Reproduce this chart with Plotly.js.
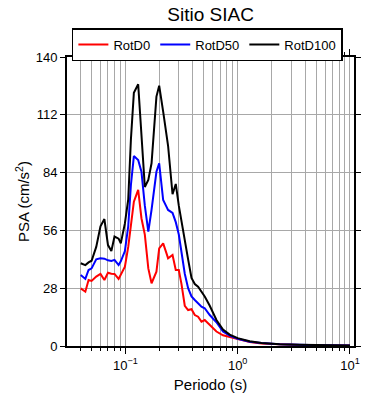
<!DOCTYPE html>
<html><head><meta charset="utf-8">
<script src="https://cdn.plot.ly/plotly-3.0.1.min.js"></script>
<style>html,body{margin:0;padding:0;background:#fff}#chart{width:390px;height:400px}</style>
</head><body><div id="chart"></div>
<script>
const periods = [0.040,0.044,0.047,0.050,0.055,0.060,0.065,0.070,0.075,0.080,0.087,0.091,0.099,0.106,0.112,0.119,0.130,0.139,0.149,0.160,0.171,0.189,0.200,0.217,0.232,0.240,0.263,0.281,0.299,0.316,0.338,0.362,0.388,0.415,0.444,0.476,0.509,0.564,0.647,0.740,0.849,1.0,1.28,1.63,2.36,3.56,5.36,10.0];
const rotD100 = [40.1,39.2,40.5,41.3,48.0,58.0,61.5,48.9,46.0,53.0,52.0,49.7,59.4,71.0,100.0,122.7,126.8,103.0,77.0,80.5,88.5,120.8,126.1,113.5,103.0,97.0,73.5,78.5,68.0,60.0,50.0,42.0,33.0,30.0,28.7,26.5,24.0,19.5,12.6,8.0,5.5,3.8,2.3,1.5,0.9,0.6,0.4,0.25];
const rotD50 = [34.4,32.5,36.8,37.6,42.0,42.5,42.3,41.5,41.2,41.7,39.2,41.0,46.0,58.0,78.0,92.0,90.1,84.4,68.0,55.4,66.0,84.4,88.5,70.7,67.5,65.9,64.5,60.0,54.0,46.0,35.0,28.0,24.0,22.3,20.5,19.0,18.3,15.0,11.5,7.0,5.0,3.5,2.1,1.4,0.8,0.5,0.35,0.22];
const rotD0 = [27.9,26.3,32.0,31.5,33.6,34.9,32.0,35.5,35.0,34.9,32.5,34.5,38.4,48.0,60.0,69.9,75.6,61.9,54.0,37.6,30.4,36.0,47.3,49.7,45.0,42.5,44.1,36.8,36.8,30.0,19.5,17.4,17.8,15.0,14.2,11.8,12.6,10.0,7.0,5.2,4.3,3.2,1.9,1.2,0.7,0.45,0.3,0.2];
const seriesNames = ['RotD0','RotD50','RotD100'];
const seriesColors = ['#ff0000','#0000ff','#000000'];
const xTickVals = [0.1,1,10];
const xTickText = ['10<sup>−1</sup>','10<sup>0</sup>','10<sup>1</sup>'];
const yTickVals = [0,28,56,84,112,140];

const data = [rotD0, rotD50, rotD100].map((ys,i)=>({
  x: periods, y: ys, type:'scatter', mode:'lines', name: seriesNames[i],
  line:{color: seriesColors[i], width:2}
}));

const gridc = '#a8a8a8';
const layout = {
  width:390, height:400,
  margin:{l:67, r:36, t:57, b:54},
  paper_bgcolor:'#fff', plot_bgcolor:'#fff',
  font:{family:'Liberation Sans, Arial, sans-serif', size:13, color:'#000'},
  title:{text:'Sitio SIAC', font:{size:19, color:'#000'}, x:0.54, xanchor:'center', y:0.965, yanchor:'middle'},
  showlegend:true,
  legend:{orientation:'h', x:0.017, xanchor:'left', y:1.1, yanchor:'top',
    bordercolor:'#000', borderwidth:1.5, bgcolor:'#fff', font:{size:13},
    tracegroupgap:0, itemwidth:30},
  xaxis:{type:'log', range:[-1.52,1.036], tickvals:xTickVals, ticktext:xTickText,
    ticks:'outside', ticklen:6, tickwidth:1, tickcolor:'#000',
    showline:true, linecolor:'#000', linewidth:2, mirror:'ticks',
    showgrid:true, gridcolor:gridc, gridwidth:1, zeroline:false,
    minor:{dtick:'D1', ticks:'outside', ticklen:3, tickwidth:1, tickcolor:'#000', showgrid:true, gridcolor:gridc, gridwidth:1},
    tickfont:{size:13}, title:{text:'Periodo (s)', font:{size:15}, standoff:8}},
  yaxis:{range:[0,140], tickvals:yTickVals, ticks:'outside', ticklen:5, tickwidth:1, tickcolor:'#000',
    showline:true, linecolor:'#000', linewidth:2, mirror:'ticks',
    showgrid:true, gridcolor:gridc, gridwidth:1, zeroline:false,
    tickfont:{size:13}, title:{text:'PSA (cm/s<sup>2</sup>)', font:{size:15}, standoff:2}}
};
Plotly.newPlot('chart', data, layout, {displayModeBar:false, staticPlot:true});
</script></body></html>
